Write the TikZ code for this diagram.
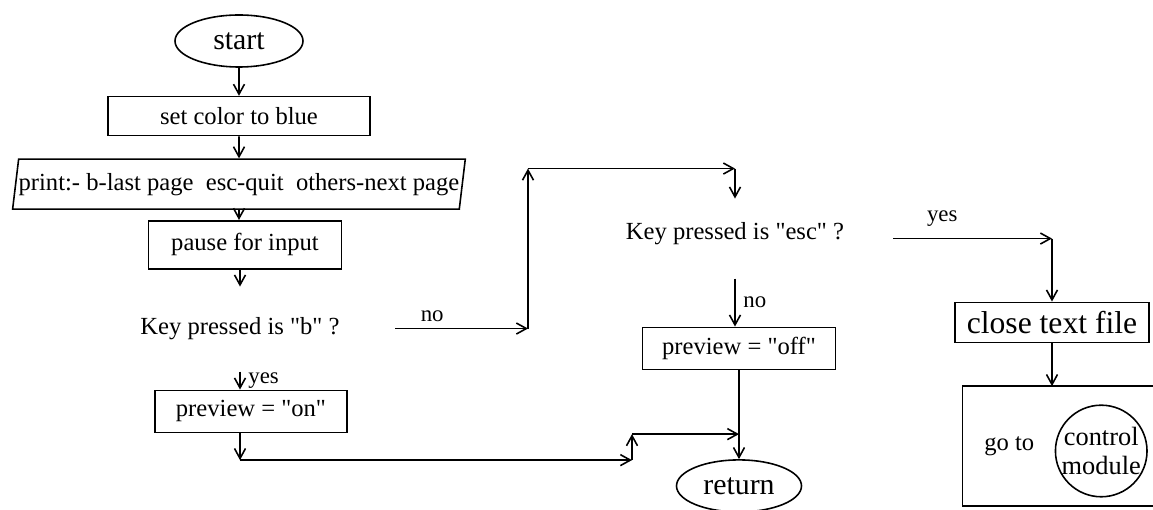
\documentclass[tikz,border=0pt]{standalone}
\usepackage{fontspec}
\setmainfont{Liberation Serif}
\newfontfamily\qfont{Liberation Serif}
\newcommand{\dq}{{\qfont"}}
\usetikzlibrary{shapes.geometric, arrows.meta, positioning}

\begin{document}
\begin{tikzpicture}[
    font=\fontsize{14}{17}\selectfont,
    node distance=0.5cm and 0.5cm,
    term/.style={ellipse, draw, line width=0.9pt, minimum width=2.56cm, minimum height=1.04cm, font=\fontsize{17}{20}\selectfont},
    box/.style={rectangle, draw, line width=0.9pt, inner sep=2pt, align=center, minimum height=0.84cm},
    iobox/.style={trapezium, draw, line width=0.9pt, trapezium left angle=80, trapezium right angle=100, trapezium stretches body, inner xsep=0pt, minimum height=1cm},
    lbl/.style={font=\fontsize{13}{15}\selectfont},
    arrow/.style={line width=0.9pt, -{Straight Barb[length=2mm, width=2.2mm]}}
  ]
  \useasboundingbox (-4.78,0.82) rectangle (18.28,-9.38);

  % left column
  \node (start) [term] {start};
  \node (setc) [box, below=0.56cm of start, minimum width=5.24cm, minimum height=0.78cm] {set color to blue};
  \node (print) [iobox, below=0.44cm of setc] {print:- b-last page~ esc-quit~ others-next page};
  \node (pause) [box, below=0.2cm of print, xshift=0.12cm, minimum width=3.86cm, minimum height=0.96cm] {pause for input};
  \node (keyb) [below=1.18cm of pause, anchor=center, xshift=-0.1cm] {Key pressed is \dq b\dq{} ?};
  \node (prevon) [box, below=1.22cm of keyb.center, xshift=0.22cm, minimum width=3.84cm] {preview = \dq on\dq};

  % middle
  \coordinate [right=3.1cm of keyb.center] (bno);
  \coordinate [right=5.76cm of keyb.center] (noc1);
  \coordinate [above=3.2cm of noc1] (noc2);
  \coordinate [right=4.14cm of noc2] (noc3);
  \coordinate [below=0.6cm of noc3] (escin);
  \node (keyesc) [below=1.3cm of noc3, anchor=center] {Key pressed is \dq esc\dq{} ?};
  \node (prevoff) [box, below=1.86cm of keyesc.center, xshift=0.08cm, minimum width=3.86cm] {preview = \dq off\dq};
  \node (retn) [term, below=1.78cm of prevoff, minimum width=2.5cm] {return};

  % right column
  \coordinate [right=3.16cm of keyesc.center, yshift=-0.1cm] (escyes);
  \coordinate [right=3.18cm of escyes] (yesc);
  \node (close) [box, below=1.26cm of yesc, minimum width=3.88cm, minimum height=0.8cm, font=\fontsize{18}{21}\selectfont] {close text file};
  \node (gotobox) [below=0.86cm of close, xshift=0.3cm, minimum width=4.16cm, minimum height=2.38cm] {};
  \draw [line width=0.9pt] (gotobox.north east) -- (gotobox.north west) -- (gotobox.south west) -- (gotobox.south east);
  \node (gotxt) [right=0.31cm of gotobox.west] {go to};
  \node (ctrl) [circle, draw, line width=0.9pt, inner sep=0pt, minimum size=1.8cm, align=center, right=1.84cm of gotobox.west, yshift=-0.1cm, font=\fontsize{15}{16}\selectfont] {control\\module};

  % connectors
  \draw [arrow] (start) -- (setc);
  \draw [arrow] (setc) -- (print);
  \draw [arrow] (print) -- (print.south |- pause.north);
  \draw [arrow] (pause.south -| keyb) -- ++(0,-0.34) coordinate (bin);
  \coordinate [below=0.86cm of keyb.center] (byes);
  \draw [arrow] (byes) -- (byes |- prevon.north) node [lbl, midway, right=1pt] {yes};
  \draw [arrow] (prevon.south -| keyb) -- ++(0,-0.54) coordinate (onc1);
  \draw [arrow] (onc1) -- ++(7.84,0) coordinate (onc2);
  \draw [arrow] (onc2) -- ++(0,0.52) coordinate (onc3);
  \draw [arrow] (onc3) -- (onc3 -| retn);
  \draw [arrow] (prevoff) -- (retn);
  \draw [arrow] (bno) -- (noc1) node [lbl, above, pos=0.28] {no};
  \draw [arrow] (noc1) -- (noc2);
  \draw [arrow] (noc2) -- (noc3);
  \draw [arrow] (noc3) -- (escin);
  \coordinate [below=0.9cm of keyesc.center] (escno);
  \draw [arrow] (escno) -- (escno |- prevoff.north) node [lbl, midway, right=1pt] {no};
  \draw [arrow] (escyes) -- (yesc) node [lbl, above=3pt, pos=0.31] {yes};
  \draw [arrow] (yesc) -- (close);
  \draw [arrow] (close) -- (close.south |- gotobox.north);
\end{tikzpicture}
\end{document}
